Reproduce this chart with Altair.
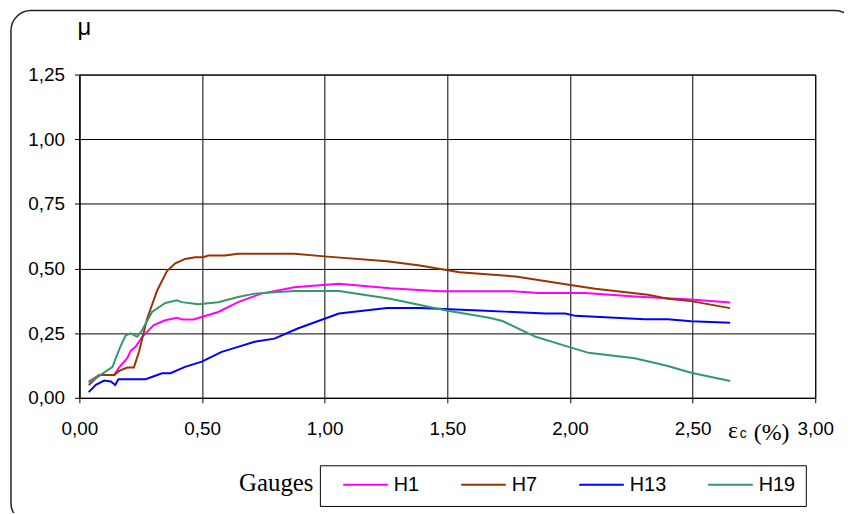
import altair as alt
import pandas as pd

# ---- data ----
series = ["H1", "H7", "H13", "H19"]
colors = ["#FF00FF", "#993300", "#0000FF", "#339966"]

h1_x = [0.038, 0.081, 0.142, 0.162, 0.195, 0.209, 0.229, 0.256, 0.303, 0.35, 0.398, 0.418, 0.465,
        0.566, 0.647, 0.741, 0.809, 0.876, 1.058, 1.267, 1.469, 1.766, 1.873, 2.062, 2.264, 2.494, 2.653]
h1_y = [0.063, 0.088, 0.088, 0.118, 0.153, 0.182, 0.197, 0.236, 0.281, 0.30, 0.31, 0.303, 0.303,
        0.332, 0.37, 0.403, 0.415, 0.428, 0.441, 0.424, 0.412, 0.412, 0.405, 0.405, 0.392, 0.38, 0.369]

h7_x = [0.038, 0.081, 0.142, 0.162, 0.195, 0.222, 0.243, 0.276, 0.317, 0.357, 0.391, 0.431, 0.472,
        0.505, 0.526, 0.593, 0.647, 0.876, 1.011, 1.254, 1.388, 1.55, 1.779, 1.995, 2.103, 2.318,
        2.399, 2.494, 2.653]
h7_y = [0.05, 0.088, 0.088, 0.104, 0.117, 0.117, 0.178, 0.306, 0.415, 0.49, 0.52, 0.537, 0.544,
        0.544, 0.55, 0.55, 0.557, 0.557, 0.546, 0.528, 0.512, 0.486, 0.469, 0.437, 0.422, 0.399,
        0.383, 0.374, 0.347]

h13_x = [0.038, 0.067, 0.101, 0.128, 0.146, 0.159, 0.202, 0.27, 0.337, 0.371, 0.431, 0.499, 0.58,
         0.647, 0.714, 0.795, 0.89, 1.058, 1.254, 1.388, 1.631, 1.90, 1.981, 2.022, 2.305, 2.399,
         2.494, 2.653]
h13_y = [0.022, 0.05, 0.067, 0.063, 0.05, 0.072, 0.072, 0.072, 0.095, 0.095, 0.12, 0.14, 0.178,
         0.197, 0.217, 0.229, 0.268, 0.326, 0.347, 0.347, 0.338, 0.326, 0.326, 0.317, 0.304, 0.304,
         0.296, 0.29]

h19_x = [0.038, 0.081, 0.135, 0.148, 0.168, 0.189, 0.209, 0.236, 0.256, 0.296, 0.35, 0.398, 0.417,
         0.485, 0.566, 0.647, 0.714, 0.876, 1.058, 1.267, 1.496, 1.671, 1.725, 1.86, 1.995, 2.076,
         2.264, 2.399, 2.494, 2.653]
h19_y = [0.059, 0.085, 0.12, 0.153, 0.2, 0.242, 0.249, 0.236, 0.262, 0.332, 0.367, 0.377, 0.37,
         0.362, 0.37, 0.39, 0.403, 0.413, 0.413, 0.383, 0.338, 0.31, 0.297, 0.236, 0.197, 0.174,
         0.153, 0.123, 0.097, 0.065]

x_ticks = [0, 0.5, 1.0, 1.5, 2.0, 2.5, 3.0]
y_ticks = [0, 0.25, 0.5, 0.75, 1.0, 1.25]

# ---- build table ----
rows = []
for name, xs, ys in [("H1", h1_x, h1_y), ("H7", h7_x, h7_y), ("H13", h13_x, h13_y), ("H19", h19_x, h19_y)]:
    for xv, yv in zip(xs, ys):
        rows.append({"eps": xv, "mu": yv, "gauge": name})
df = pd.DataFrame(rows)

W, H = 742, 326
one = pd.DataFrame({"k": [0]})
comma = "replace(format(datum.value, '.2f'), '.', ',')"

frame = alt.Chart(one).mark_rect(
    cornerRadius=20, fill="white", fillOpacity=0, stroke="#222", strokeWidth=1.5
).encode(x=alt.value(-69), x2=alt.value(782), y=alt.value(-64.5), y2=alt.value(452))

legend_box = alt.Chart(one).mark_rect(
    fill="white", stroke="black", strokeWidth=1
).encode(x=alt.value(243), x2=alt.value(733), y=alt.value(394.5), y2=alt.value(435.5))

lines = alt.Chart(df).mark_line(strokeWidth=2).encode(
    x=alt.X("eps:Q", scale=alt.Scale(domain=[0, 3], nice=False),
            axis=alt.Axis(values=x_ticks, labelExpr=comma, title=None, grid=True,
                          labelPadding=17, tickSize=5, labelFlush=False)),
    y=alt.Y("mu:Q", scale=alt.Scale(domain=[0, 1.25], nice=False),
            axis=alt.Axis(values=y_ticks, labelExpr=comma, title=None, grid=True,
                          labelPadding=10, tickSize=5, labelFlush=False)),
    color=alt.Color("gauge:N", scale=alt.Scale(domain=series, range=colors), sort=series,
                    legend=alt.Legend(orient="none", legendX=265, legendY=389.8, direction="horizontal",
                                      title=None, symbolType="stroke", symbolSize=2025,
                                      symbolStrokeWidth=2, labelFont="Liberation Sans",
                                      labelFontSize=20, labelColor="black", labelOffset=5,
                                      columnPadding=38, padding=0)),
    order="eps:Q",
)

mu_title = alt.Chart(one).mark_text(
    text="μ", font="Liberation Sans", fontSize=24, align="center", baseline="alphabetic", color="black"
).encode(x=alt.value(5), y=alt.value(-40))

eps_t = alt.Chart(one).mark_text(
    text="ε", font="Liberation Serif", fontSize=24, align="left", baseline="alphabetic", color="black"
).encode(x=alt.value(654), y=alt.value(366.5))
c_t = alt.Chart(one).mark_text(
    text="c", font="Liberation Sans", fontSize=14, align="left", baseline="alphabetic", color="black"
).encode(x=alt.value(666), y=alt.value(366.5))
pct_t = alt.Chart(one).mark_text(
    text="(%)", font="Liberation Serif", fontSize=24, align="left", baseline="alphabetic", color="black"
).encode(x=alt.value(680), y=alt.value(368))

gauges_t = alt.Chart(one).mark_text(
    text="Gauges", font="Liberation Serif", fontSize=25, align="right", baseline="alphabetic", color="black"
).encode(x=alt.value(236), y=alt.value(420))

chart = alt.layer(frame, legend_box, lines, mu_title, eps_t, c_t, pct_t, gauges_t).properties(
    width=W, height=H,
    autosize=alt.AutoSizeParams(type="none"),
    padding={"left": 72, "top": 65, "right": 29, "bottom": 114},
).configure_view(
    stroke="black", strokeWidth=1
).configure_axis(
    labelFont="Liberation Sans", labelFontSize=19, labelColor="black",
    domainColor="black", tickColor="black", gridColor="black", gridOpacity=1, gridWidth=1,
    domainWidth=1, tickWidth=1
)

chart.save("out.html", embed_options={"renderer": "svg", "actions": False})
